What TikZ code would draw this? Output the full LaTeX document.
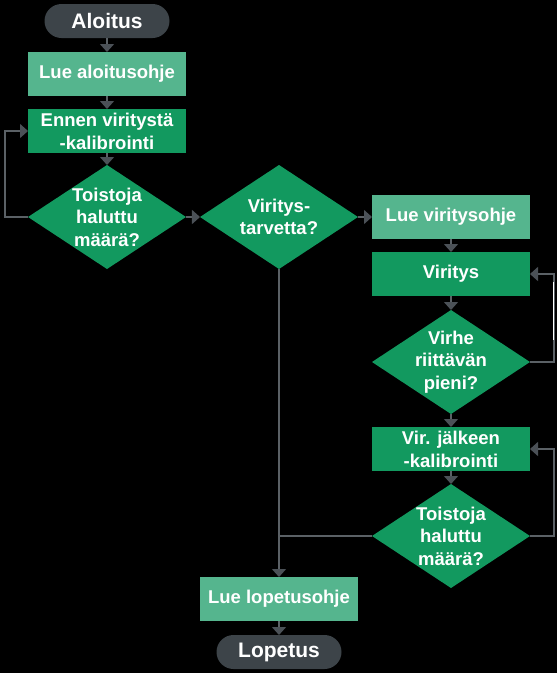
\documentclass[tikz,border=0pt]{standalone}
\usepackage{fontspec}
\setmainfont{Liberation Sans}
\usetikzlibrary{arrows.meta, positioning, shapes.geometric, shapes.misc, calc}
\definecolor{vihreavaalea}{HTML}{55B58E}
\definecolor{vihreatumma}{HTML}{12995F}
\definecolor{harmaatumma}{HTML}{3D4449}
\definecolor{harmaaviiva}{HTML}{5B6166}
\definecolor{harmaakarki}{HTML}{4B5157}
\colorlet{colOhje}{vihreavaalea}
\colorlet{colVaihe}{vihreatumma}
\colorlet{colPaate}{harmaatumma}
\colorlet{colViiva}{harmaaviiva}
\colorlet{colKarki}{harmaakarki}
\tikzset{
  laatikkoPerus/.style={
    rectangle, minimum width=158pt, minimum height=44pt,
    inner sep=0pt, outer sep=0pt, align=center, text=white,
    font=\fontsize{18.5}{23}\selectfont\bfseries
  },
  laatikkoOhje/.style={laatikkoPerus, fill=colOhje},
  laatikkoVaihe/.style={laatikkoPerus, fill=colVaihe},
  laatikkoPaate/.style={laatikkoPerus, rounded rectangle, fill=colPaate,
    minimum width=125pt, minimum height=34pt,
    font=\fontsize{21}{25}\selectfont\bfseries},
  paatos/.style={diamond, fill=colVaihe, minimum width=158pt,
    minimum height=104pt, inner sep=0pt, outer sep=0pt},
  paatosTeksti/.style={text=white, align=center, inner sep=0pt,
    font=\fontsize{18.5}{22.5}\selectfont\bfseries},
  nuoli/.style={-{Triangle[width=14pt,length=8pt,color=colKarki]},
    line width=1.4pt, colViiva},
  viiva/.style={line width=1.4pt, colViiva},
}
\begin{document}
\begin{tikzpicture}[x=1pt, y=1pt, node distance=13pt]
    \fill[black] (0,0) rectangle (557,-673);
    \useasboundingbox (0,0) rectangle (557,-673);

    \node[laatikkoPaate] (aloitus) at (107,-21) {Aloitus};
    \node[laatikkoOhje, below=14pt of aloitus] (lueAlku) {Lue aloitusohje};
    \node[laatikkoVaihe, below=of lueAlku] (kalibrointi) {Ennen viritystä\\-kalibrointi};
    \node[paatos, below=12pt of kalibrointi,
      label={[paatosTeksti]center:Toistoja\\haluttu\\määrä?}] (toistot) {};
    \node[paatos, right=14pt of toistot,
      label={[paatosTeksti]center:Viritys-\\tarvetta?}] (tarve) {};
    \node[laatikkoOhje, right=14pt of tarve] (lueViritys) {Lue viritysohje};
    \node[laatikkoVaihe, below=of lueViritys] (viritys) {Viritys};
    \node[paatos, below=14pt of viritys,
      label={[paatosTeksti]center:Virhe\\riittävän\\pieni?}] (virhe) {};
    \node[laatikkoVaihe, below=of virhe] (jalkeen) {Vir. jälkeen\\-kalibrointi};
    \node[paatos, below=of jalkeen,
      label={[paatosTeksti]center:Toistoja\\haluttu\\määrä?}] (toistot2) {};
    \node[laatikkoOhje, below=308pt of tarve] (lueLoppu) {Lue lopetusohje};
    \node[laatikkoPaate, below=14pt of lueLoppu] (lopetus) {Lopetus};

    \draw[nuoli] (aloitus) -- (lueAlku);
    \draw[nuoli] (lueAlku) -- (kalibrointi);
    \draw[nuoli] (kalibrointi) -- (toistot);
    \draw[nuoli] (toistot.west) -- ++(-23pt,0) |- (kalibrointi.west);
    \draw[nuoli] (toistot) -- (tarve);
    \draw[nuoli] (tarve) -- (lueViritys);
    \draw[nuoli] (lueViritys) -- (viritys);
    \draw[nuoli] (viritys) -- (virhe);
    \draw[nuoli] (virhe.east) -- ++(24pt,0) |- (viritys.east);
    \draw[nuoli] (virhe) -- (jalkeen);
    \draw[nuoli] (jalkeen) -- (toistot2);
    \draw[nuoli] (toistot2.east) -- ++(24pt,0) |- (jalkeen.east);
    \draw[viiva] (toistot2.west) -- (tarve |- toistot2.west);
    \draw[nuoli] (tarve) -- (lueLoppu);
    \draw[nuoli] (lueLoppu) -- (lopetus);
    \draw[white, line width=1.2pt] (553.5,-282) -- (553.5,-340);
  \end{tikzpicture}
\end{document}
